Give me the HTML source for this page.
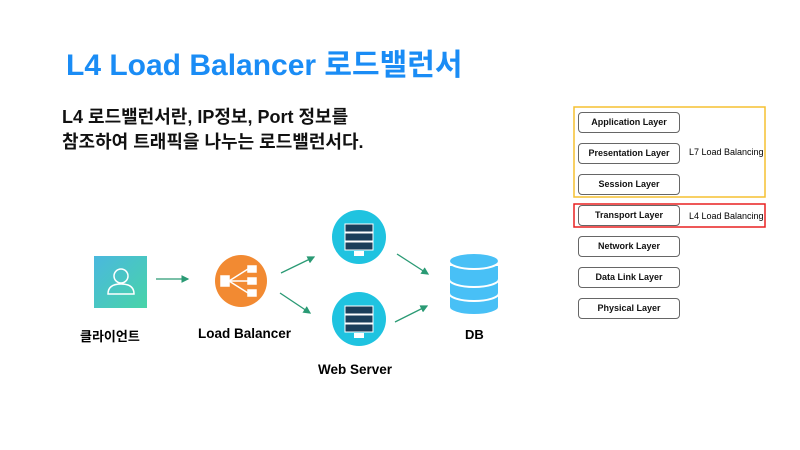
<!DOCTYPE html>
<html><head><meta charset="utf-8"><style>
body{margin:0;width:800px;height:450px;background:#fff;overflow:hidden;position:relative;font-family:"Liberation Sans","Noto Sans CJK KR",sans-serif}
.t{position:absolute;white-space:nowrap}
.box{position:absolute;left:578px;width:100px;height:19px;border:1.5px solid #666;border-radius:4px;font:bold 9px "Liberation Sans","Noto Sans CJK KR",sans-serif;text-align:center;line-height:19px;color:#111}
</style></head><body>
<div class="t" style="left:66px;top:40px;font-size:30px;font-weight:bold;color:#1a8cf5">L4 Load Balancer 로드밸런서</div>
<div class="t" style="left:62px;top:105px;font-size:18px;font-weight:bold;color:#111;line-height:25px">L4 로드밸런서란, IP정보, Port 정보를<br>참조하여 트래픽을 나누는 로드밸런서다.</div>

<svg style="position:absolute;left:0;top:0" width="800" height="450">
<defs>
<linearGradient id="g" x1="0" y1="0" x2="1" y2="1"><stop offset="0" stop-color="#4ab8de"/><stop offset="1" stop-color="#48d4a8"/></linearGradient>
<marker id="a" markerWidth="6" markerHeight="6" refX="5" refY="3" orient="auto"><path d="M0,0L6,3L0,6z" fill="#2a9a74"/></marker>
</defs>
<rect x="94" y="256" width="53" height="52" fill="url(#g)"/>
<circle cx="121" cy="276" r="7" fill="none" stroke="#fff" stroke-width="1.5"/>
<path d="M108,294 q0,-10 13,-10 q13,0 13,10 z" fill="none" stroke="#fff" stroke-width="1.5"/>
<g stroke="#2a9a74" stroke-width="1.3" marker-end="url(#a)">
<line x1="156" y1="279" x2="188" y2="279"/>
<line x1="281" y1="273" x2="314" y2="257"/>
<line x1="280" y1="293" x2="310" y2="313"/>
<line x1="397" y1="254" x2="428" y2="274"/>
<line x1="395" y1="322" x2="427" y2="306"/>
</g>
<circle cx="241" cy="281" r="26" fill="#f28a32"/>
<g stroke="#fff" stroke-width="1.5" fill="#fff"><rect x="221" y="276" width="8" height="10"/><rect x="248" y="266" width="8" height="6"/><rect x="248" y="278" width="8" height="6"/><rect x="248" y="290" width="8" height="6"/><line x1="229" y1="281" x2="248" y2="269"/><line x1="229" y1="281" x2="248" y2="281"/><line x1="229" y1="281" x2="248" y2="293"/></g>
<g id="s"><circle cx="359" cy="237" r="27" fill="#1fc3e0"/>
<rect x="345" y="224" width="28" height="8" fill="#1b3e5a" stroke="#fff"/><rect x="345" y="233" width="28" height="8" fill="#1b3e5a" stroke="#fff"/><rect x="345" y="242" width="28" height="8" fill="#1b3e5a" stroke="#fff"/>
<rect x="354" y="251" width="10" height="5" fill="#fff"/></g>
<use href="#s" y="82"/>
<g fill="#48c0f6" stroke="#fff" stroke-width="2">
<path d="M449,293 v14 a25,8 0 0 0 50,0 v-14z"/>
<path d="M449,279 v14 a25,8 0 0 0 50,0 v-14z"/>
<path d="M449,265 v14 a25,8 0 0 0 50,0 v-14z"/>
<ellipse cx="474" cy="261" rx="25" ry="8"/>
</g>
<rect x="574" y="107" width="191" height="90" fill="none" stroke="#f5c030" stroke-width="1.5"/>
<rect x="574" y="204" width="191" height="23" fill="none" stroke="#e82020" stroke-width="1.5"/>
</svg>
<div class="t" style="left:80px;top:326px;font-size:13px;font-weight:bold">클라이언트</div>
<div class="t" style="left:198px;top:326px;font-size:13.5px;font-weight:bold">Load Balancer</div>
<div class="t" style="left:318px;top:362px;font-size:13.5px;font-weight:bold">Web Server</div>
<div class="t" style="left:465px;top:327px;font-size:13px;font-weight:bold">DB</div>
<div class="box" style="top:112px">Application Layer</div>
<div class="box" style="top:143px">Presentation Layer</div>
<div class="box" style="top:174px">Session Layer</div>
<div class="box" style="top:205px">Transport Layer</div>
<div class="box" style="top:236px">Network Layer</div>
<div class="box" style="top:267px">Data Link Layer</div>
<div class="box" style="top:298px">Physical Layer</div>
<div class="t" style="left:689px;top:147px;font-size:9px">L7 Load Balancing</div>
<div class="t" style="left:689px;top:211px;font-size:9px">L4 Load Balancing</div>
</body></html>
